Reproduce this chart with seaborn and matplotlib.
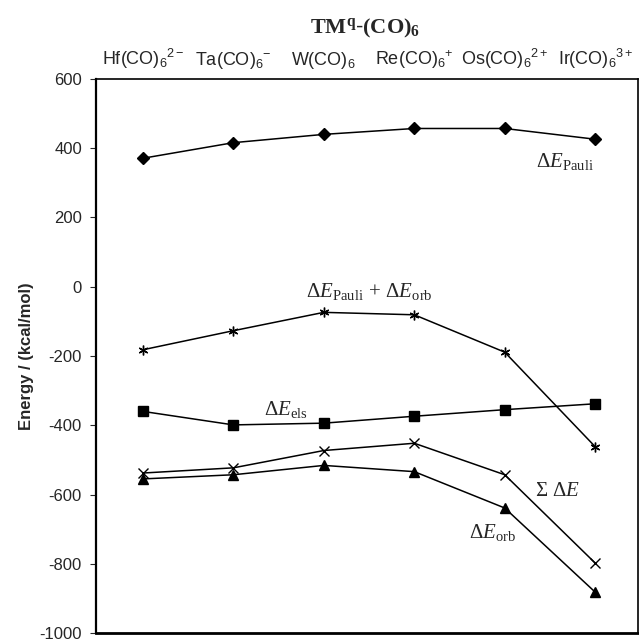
import numpy as np
import pandas as pd
import seaborn as sns
import matplotlib.pyplot as plt

# data (kcal/mol)
complexes = [r'$\mathsf{Hf(CO)_6{}^{2-}}$', r'$\mathsf{Ta(CO)_6{}^{-}}$', r'$\mathsf{W(CO)_6}$',
             r'$\mathsf{Re(CO)_6{}^{+}}$', r'$\mathsf{Os(CO)_6{}^{2+}}$', r'$\mathsf{Ir(CO)_6{}^{3+}}$']
e_pauli = [371, 416, 440, 457, 457, 426]
e_pauli_orb = [-182, -127, -74, -81, -189, -462]
e_els = [-360, -399, -394, -374, -355, -338]
e_total = [-538, -523, -473, -452, -543, -798]
e_orb = [-555, -543, -516, -534, -639, -882]

sns.set_style('white')
plt.rcParams['font.family'] = ['Liberation Sans', 'DejaVu Sans']
plt.rcParams['axes.unicode_minus'] = False
plt.rcParams['mathtext.fontset'] = 'custom'
plt.rcParams['mathtext.rm'] = 'Liberation Serif'
plt.rcParams['mathtext.it'] = 'Liberation Serif:italic'
plt.rcParams['mathtext.bf'] = 'Liberation Serif:bold'
plt.rcParams['mathtext.sf'] = 'Liberation Sans'

fig = plt.figure(figsize=(6.39, 6.42), dpi=100)
ax = fig.add_axes([0.150, 0.014, 0.848, 0.863])

x = np.arange(len(complexes))
series = [
    (e_pauli, 'D', 6),
    (e_pauli_orb, (6, 2, 0), 7),
    (e_els, 's', 7),
    (e_total, 'x', 7),
    (e_orb, '^', 7),
]
for vals, mk, ms in series:
    df = pd.DataFrame({'x': x, 'y': vals})
    sns.lineplot(data=df, x='x', y='y', ax=ax, color='black', lw=1.1,
                 marker=mk, markersize=ms, markeredgecolor='black',
                 markerfacecolor='black', markeredgewidth=1.0)

ax.set_xlim(-0.52, 5.47)
ax.set_ylim(-1000, 600)
ax.set_yticks(range(-1000, 601, 200))
ax.tick_params(axis='y', labelsize=12, length=4, width=0.8, left=True, direction='out', pad=6)
ax.xaxis.tick_top()
ax.set_xticks(x)
ax.set_xticklabels(complexes, fontsize=13)
ax.tick_params(axis='x', length=0, pad=6)
ax.set_xlabel('')
ax.set_ylabel('Energy / (kcal/mol)', fontsize=12, fontweight='bold', labelpad=4)
for s in ax.spines.values():
    s.set_color('black')
    s.set_linewidth(1.2)
ax.spines['bottom'].set_linewidth(2)
ax.spines['left'].set_linewidth(1.6)

fig.text(0.571, 0.956, r'$\mathbf{TM^{q}}$-$\mathbf{(CO)_6}$', ha='center', va='center', fontsize=16)

fs = 15
ax.text(4.66, 363, r'$\Delta E_{\mathrm{Pauli}}$', ha='center', va='center', fontsize=fs)
ax.text(2.50, -15, r'$\Delta E_{\mathrm{Pauli}}\,+\,\Delta E_{\mathrm{orb}}$', ha='center', va='center', fontsize=fs)
ax.text(1.58, -354, r'$\Delta E_{\mathrm{els}}$', ha='center', va='center', fontsize=fs)
ax.text(4.58, -588, r'$\Sigma\ \Delta E$', ha='center', va='center', fontsize=fs)
ax.text(3.87, -709, r'$\Delta E_{\mathrm{orb}}$', ha='center', va='center', fontsize=fs)

plt.savefig('out.png', dpi=100)
